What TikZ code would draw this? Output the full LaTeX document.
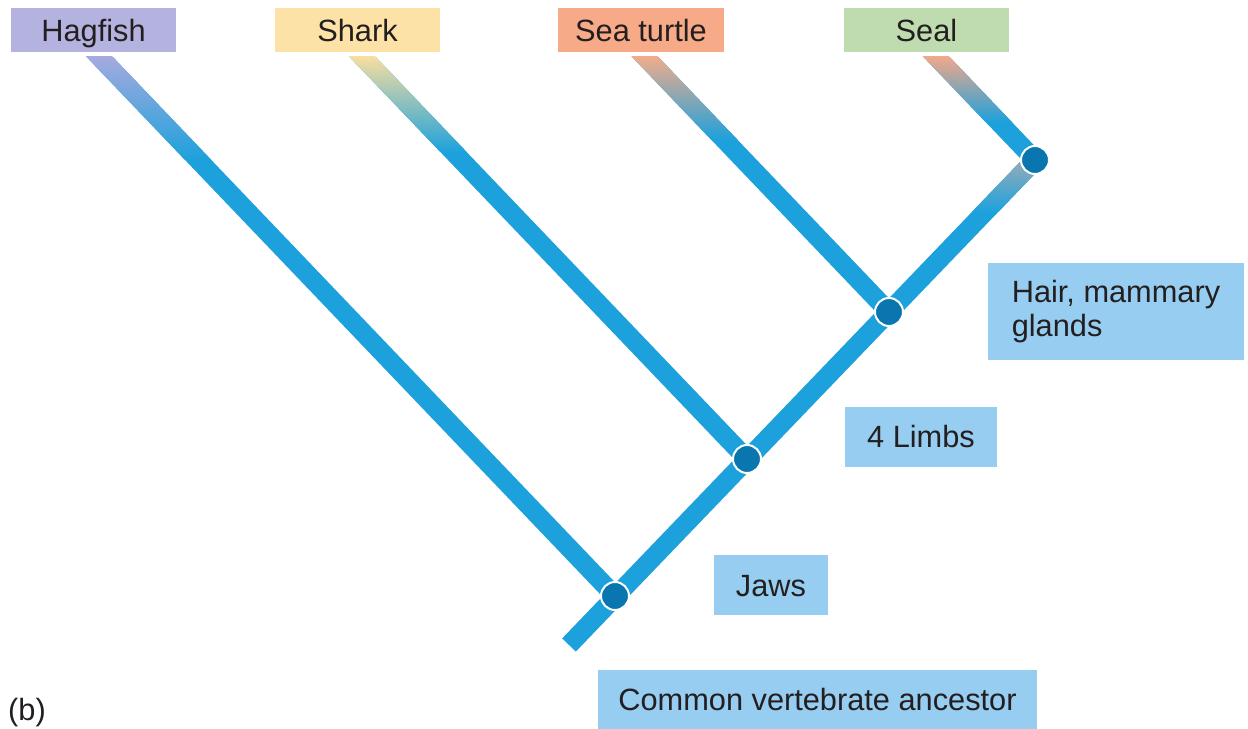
\documentclass[tikz,border=0pt]{standalone}
\usepackage{xcolor}
\usepackage{tikz}
\usepackage{fontspec}
\setmainfont{Liberation Sans}
\usetikzlibrary{positioning,calc}

\definecolor{limbblue}{RGB}{29,161,220}
\definecolor{knotblue}{RGB}{10,118,176}
\definecolor{traitblue}{RGB}{150,205,240}
\definecolor{hagbox}{RGB}{180,178,222}
\definecolor{sharkbox}{RGB}{253,226,168}
\definecolor{turtlebox}{RGB}{246,170,136}
\definecolor{sealbox}{RGB}{190,220,175}
\definecolor{hagtip}{RGB}{165,170,222}
\definecolor{sharktip}{RGB}{245,222,160}
\definecolor{turtletip}{RGB}{240,172,140}
\definecolor{sealtip}{RGB}{240,168,138}
\definecolor{trunkgrey}{RGB}{150,172,184}
\definecolor{ink}{RGB}{35,31,32}

\begin{document}
\begin{tikzpicture}[x=0.02cm, y=-0.02cm, text=ink,
    font=\fontsize{17.5}{19.5}\selectfont,
    taxon/.style={minimum width=3.32cm, minimum height=0.88cm, inner sep=0pt, text height=12.6pt, text depth=0pt},
    trait/.style={fill=traitblue, inner sep=0pt, minimum height=1.2cm},
    knot/.style={circle, fill=knotblue, draw=white, line width=0.04cm, minimum size=0.56cm, inner sep=0pt}]
    \useasboundingbox (0,0) rectangle (1248,729);

    % Branch points
    \coordinate (root) at (569,645);
    \coordinate (jaws) at (615,596);
    \coordinate (limbs) at (747,459);
    \coordinate (hair) at (889,312);
    \coordinate (fork) at (1035,160);

    % Tips (cut off under the taxa)
    \coordinate (tHag) at (83.5,40);
    \coordinate (tShark) at (346.4,40);
    \coordinate (tTurtle) at (629,40);
    \coordinate (tSeal) at (920.3,40);

    % Branches
    \foreach \tip/\knot/\col/\fade in {tHag/jaws/hagtip/160, tShark/limbs/sharktip/152, tTurtle/hair/turtletip/140, tSeal/fork/sealtip/122}{
        \begin{scope}
            \clip (0,57) rectangle (1248,729);
            \clip ($(\tip)!0.19cm!90:(\knot)$) -- ($(\knot)!0.19cm!-90:(\tip)$)
                -- ($(\knot)!0.19cm!90:(\tip)$) -- ($(\tip)!0.19cm!-90:(\knot)$) -- cycle;
            \fill[limbblue] (0,57) rectangle (1248,729);
            \shade[top color=\col, bottom color=limbblue] (0,57) rectangle (1248,\fade);
        \end{scope}
    }

    % Trunk
    \begin{scope}
        \clip ($(root)!0.19cm!90:(fork)$) -- ($(fork)!0.19cm!-90:(root)$)
            -- ($(fork)!0.19cm!90:(root)$) -- ($(root)!0.19cm!-90:(fork)$) -- cycle;
        \fill[limbblue] (0,0) rectangle (1248,729);
        \shade[top color=trunkgrey, bottom color=limbblue] (0,160) rectangle (1248,212);
    \end{scope}

    % Knots
    \node[knot] (kJaws) at (jaws) {};
    \node[knot] (kLimbs) at (limbs) {};
    \node[knot] (kHair) at (hair) {};
    \node[knot] (kFork) at (fork) {};

    % Taxa
    \node[taxon, fill=hagbox] (hagfish) at (93.5,30) {Hagfish};
    \node[taxon, fill=sharkbox] (shark) at (357.5,30) {Shark};
    \node[taxon, fill=turtlebox] (turtle) at (641,30) {Sea turtle};
    \node[taxon, fill=sealbox] (seal) at (926.5,30) {Seal};

    % Traits
    \node[trait, minimum width=2.28cm, text height=12.6pt, text depth=0pt] (jawsbox) at (771,585) {Jaws};
    \node[trait, minimum width=3.04cm] (limbsbox) at (921,437) {4 Limbs};
    \node[trait, minimum width=5.12cm, minimum height=1.94cm, align=left] (hairbox) at (1116,311.5) {Hair, mammary\\glands};
    \node[trait, minimum width=8.78cm] (ancestor) at (817.5,700) {Common vertebrate ancestor};

    \node (panel) at (27,713) {(b)};
\end{tikzpicture}
\end{document}
